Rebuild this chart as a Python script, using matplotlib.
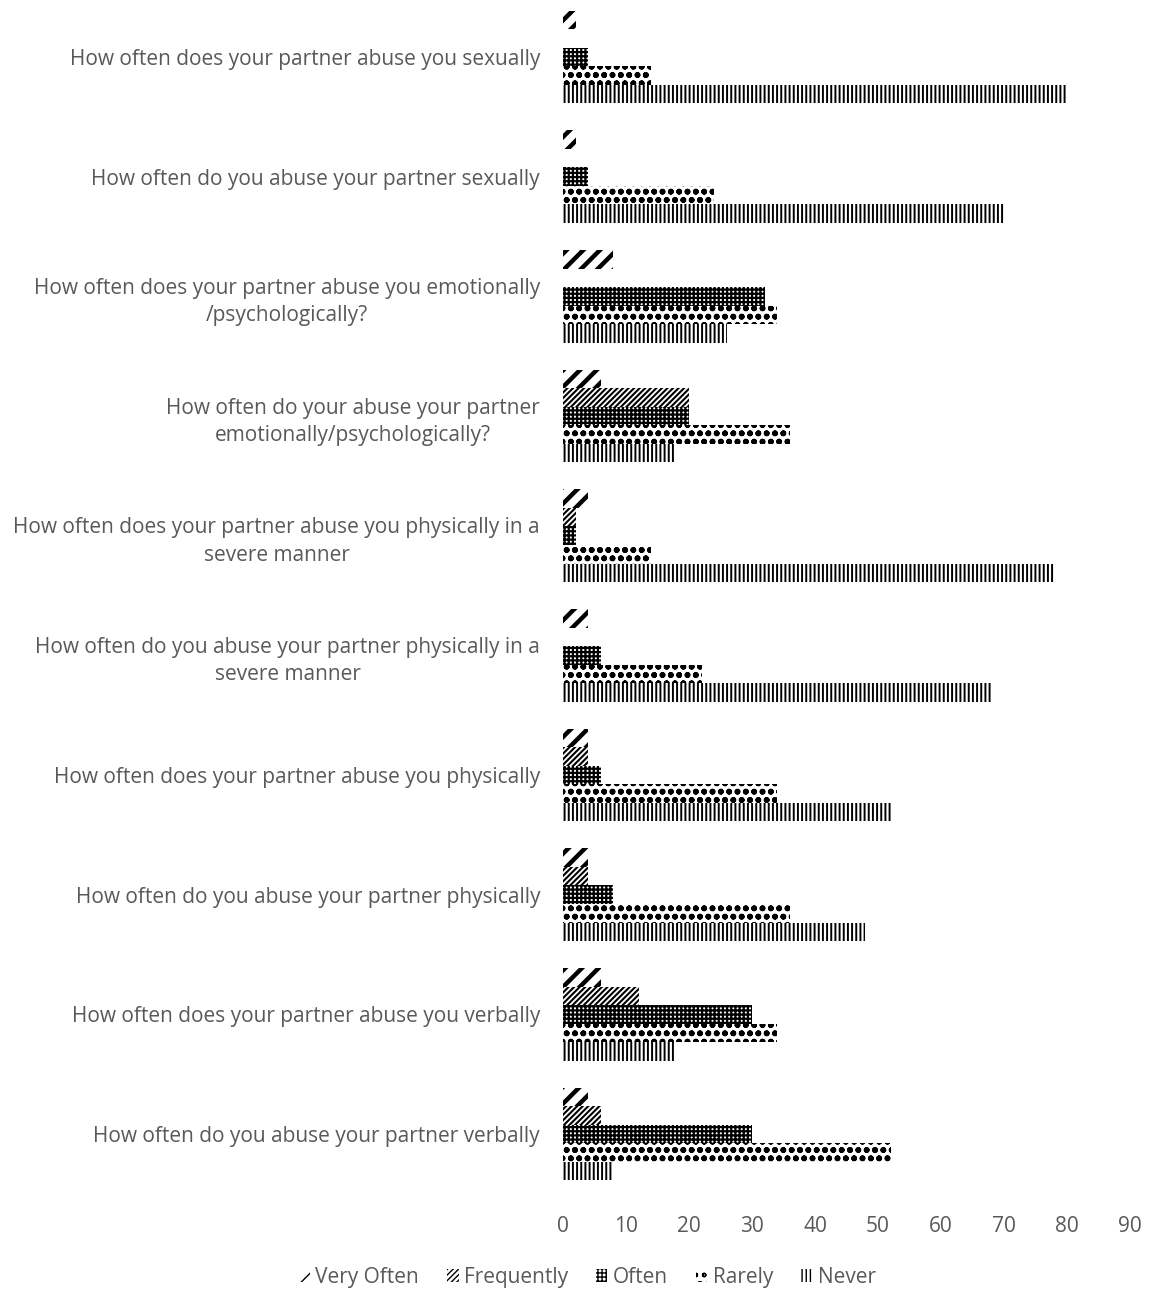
import matplotlib
matplotlib.use("Agg")
import matplotlib.pyplot as plt
import numpy as np

questions = [
    "How often does your partner abuse you sexually",
    "How often do you abuse your partner sexually",
    "How often does your partner abuse you emotionally\n/psychologically?",
    "How often do your abuse your partner\nemotionally/psychologically?",
    "How often does your partner abuse you physically in a\nsevere manner",
    "How often do you abuse your partner physically in a\nsevere manner",
    "How often does your partner abuse you physically",
    "How often do you abuse your partner physically",
    "How often does your partner abuse you verbally",
    "How often do you abuse your partner verbally",
]

series = ["Very Often", "Frequently", "Often", "Rarely", "Never"]

very_often = [2, 2, 8, 6, 4, 4, 4, 4, 6, 4]
frequently = [0, 0, 0, 20, 2, 0, 4, 4, 12, 6]
often = [4, 4, 32, 20, 2, 6, 6, 8, 30, 30]
rarely = [14, 24, 34, 36, 14, 22, 34, 36, 34, 52]
never = [80, 70, 26, 18, 78, 68, 52, 48, 18, 8]

values = [very_often, frequently, often, rarely, never]
hatches = ["//", "//////", "++++", "oo", "||||"]
hatch_lw = [3.2, 1.5, 1.6, 1.8, 1.4]

grey = "#595959"
plt.rcParams["font.family"] = ["Open Sans", "DejaVu Sans"]

fig = plt.figure(figsize=(11.49, 12.91), dpi=100)
ax = fig.add_axes([0.49, 0.0752, 0.4935, 0.927])

y = np.arange(len(questions))
h = 0.155
for j, (name, vals) in enumerate(zip(series, values)):
    with plt.rc_context({"hatch.linewidth": hatch_lw[j]}):
        bars = ax.barh(y + (j - 2) * h, vals, height=h, color="white",
                       edgecolor="black", linewidth=0, hatch=hatches[j], label=name)
    for b in bars:
        if hasattr(b, "set_hatch_linewidth"):
            b.set_hatch_linewidth(hatch_lw[j])

ax.set_ylim(len(questions) - 0.5, -0.5)
ax.set_xlim(0, 90)
ax.set_xticks(np.arange(0, 91, 10))
ax.set_yticks(y)
ax.set_yticklabels(questions, multialignment="center", linespacing=1.4)
ax.tick_params(axis="both", length=0, labelsize=15, labelcolor=grey)
ax.tick_params(axis="y", pad=16.5)
ax.tick_params(axis="x", pad=16)
for s in ax.spines.values():
    s.set_visible(False)

fig.legend(loc="center", bbox_to_anchor=(0.511, 0.0105), ncol=5, frameon=False,
           fontsize=15, labelcolor=grey, handlelength=0.55, handleheight=0.55,
           handletextpad=0.25, columnspacing=1.35)

fig.savefig("out.png", dpi=100)
